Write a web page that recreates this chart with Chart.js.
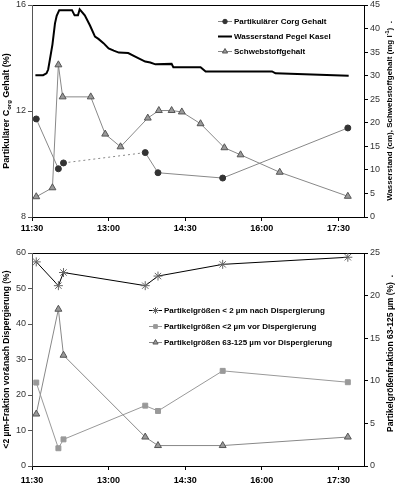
<!DOCTYPE html>
<html><head><meta charset="utf-8">
<script src="https://cdn.jsdelivr.net/npm/chart.js@4.4.1/dist/chart.umd.min.js"></script>
<style>
html,body{margin:0;padding:0;background:#fff;overflow:hidden;}
#c1{position:absolute;left:0;top:0;}
#c2{position:absolute;left:0;top:236px;}
</style></head><body>
<canvas id="c1" width="397" height="236"></canvas>
<canvas id="c2" width="397" height="247"></canvas>
<script>
// ---------- data ----------
const xRange = ["11:30", "18:00"];
const xTickLabels = ["11:30", "13:00", "14:30", "16:00", "17:30"];

const sampleTimes = ["11:35", "12:01", "12:07", "13:43", "13:58", "15:14", "17:41"];
const corg = [11.70, 9.82, 10.04, 10.43, 9.67, 9.47, 11.36];
const dashedCorgSegments = [2];

const waterTimes = ["11:34","11:43","11:47","11:49","11:51","11:54","11:57","11:59","12:02","12:17","12:20","12:24","12:26","12:32","12:38","12:44","12:48","12:54","13:00","13:06","13:12","13:23","13:33","13:43","13:49","13:55","14:14","14:16","14:48","14:54","16:12","16:16","17:42"];
const waterLevel = [30.1,30.1,30.5,31.3,33.4,36.6,41.1,42.7,43.9,43.9,42.8,42.8,44.1,42.8,40.7,38.3,37.8,36.9,35.8,35.3,34.9,34.8,33.9,33.0,32.8,32.4,32.5,31.8,31.8,30.9,30.9,30.5,30.0];

const suspTimes = ["11:35","11:54","12:01","12:06","12:39","12:56","13:14","13:46","13:59","14:14","14:26","14:48","15:16","15:35","16:21","17:41"];
const suspended = [4.3, 6.2, 32.3, 25.5, 25.5, 17.6, 14.9, 21.0, 22.6, 22.6, 22.3, 19.8, 14.7, 13.2, 9.5, 4.4];

const clayAfter = [57.5, 50.8, 54.5, 50.8, 53.5, 56.8, 58.8];
const clayBefore = [23.5, 5.0, 7.5, 17.0, 15.5, 26.8, 23.6];
const coarseBefore = [6.1, 18.4, 13.0, 3.4, 2.4, 2.4, 3.4];

const topLegend = ["Partikulärer Corg Gehalt", "Wasserstand Pegel Kasel", "Schwebstoffgehalt"];
const bottomLegend = ["Partikelgrößen < 2 µm nach Dispergierung", "Partikelgrößen <2 µm vor Dispergierung", "Partikelgrößen 63-125 µm vor Dispergierung"];

// ---------- helpers ----------
const FF = "'Liberation Sans', Arial, sans-serif";
function hm(s){ const [h,m] = s.split(":").map(Number); return h + m/60; }
function pts(times, vals){ return times.map((t,i)=>({x:hm(t), y:vals[i]})); }

const framePlugin = {
  id:'frame',
  beforeDatasetsDraw(chart){
    const a = chart.chartArea, c = chart.ctx;
    const L = Math.round(a.left)+0.5, R = Math.round(a.right)+0.5, T = Math.round(a.top)+0.5, B = Math.round(a.bottom)+0.5;
    c.save(); c.lineWidth = 1;
    c.strokeStyle = '#000';
    c.beginPath(); c.moveTo(L,T); c.lineTo(R,T); c.lineTo(R,B); c.lineTo(L,B); c.stroke();
    c.strokeStyle = '#555';
    c.beginPath(); c.moveTo(L,T); c.lineTo(L,B); c.stroke();
    c.restore();
  }
};

function drawRot(ctx, cx, cy, parts){
  ctx.save();
  ctx.translate(cx, cy);
  ctx.rotate(-Math.PI/2);
  let total = 0;
  parts.forEach(p=>{ ctx.font = p.font; p.w = ctx.measureText(p.text).width; total += p.w; });
  let x = -total/2;
  ctx.textBaseline = 'middle'; ctx.fillStyle = '#000';
  parts.forEach(p=>{ ctx.font = p.font; ctx.fillText(p.text, x, p.dy||0); x += p.w; });
  ctx.restore();
}

const titlePlugin = {
  id:'titles',
  afterDraw(chart, args, opts){
    const a = chart.chartArea, cy = (a.top + a.bottom)/2;
    drawRot(chart.ctx, opts.leftX, cy + (opts.leftDy||0), opts.left);
    drawRot(chart.ctx, opts.rightX, cy + (opts.rightDy||0), opts.right);
  }
};

const legendPlugin = {
  id:'legendx',
  afterDraw(chart, args, opts){
    const c = chart.ctx, a = chart.chartArea;
    const x0 = a.left + opts.dx, y0 = a.top + opts.dy;
    chart.data.datasets.forEach((ds, i)=>{
      const y = Math.round(y0 + i*opts.step) + 0.5;
      c.save();
      c.strokeStyle = ds.borderColor; c.lineWidth = ds.borderWidth;
      c.beginPath(); c.moveTo(x0, y); c.lineTo(x0 + opts.len, y); c.stroke();
      if (ds.pointRadius > 0) {
        c.fillStyle = ds.pointBackgroundColor; c.strokeStyle = ds.pointBorderColor; c.lineWidth = 1;
        Chart.helpers.drawPoint(c, {pointStyle: ds.pointStyle, rotation:0, radius: ds.pointRadius*0.75, borderWidth:1}, x0 + opts.len/2, y);
      }
      c.fillStyle = '#000'; c.font = 'bold 8px ' + FF; c.textBaseline = 'middle';
      c.fillText(opts.labels[i], x0 + opts.len + 2, y);
      c.restore();
    });
  }
};

function xScale(h, pad){
  return {
    type:'linear', min: hm(xRange[0]), max: hm(xRange[1]),
    afterBuildTicks: s => { s.ticks = xTickLabels.map(l=>({value: hm(l)})); },
    afterFit: s => { s.height = h; s.paddingLeft = 0; s.paddingRight = 0; },
    ticks:{ autoSkip:false, maxRotation:0, padding: pad, color:'#000', font:{family:FF, size:9, weight:'bold'},
      callback:(v,i)=> xTickLabels[i] },
    grid:{ drawOnChartArea:false, tickLength:4, color:'#000' },
    border:{ display:false }
  };
}
function yScale(pos, min, max, step, w){
  return {
    type:'linear', position: pos, min, max,
    afterFit: s => { s.width = w; s.paddingTop = 0; s.paddingBottom = 0; },
    ticks:{ stepSize: step, padding: 2, color:'#333', font:{family:FF, size:9} },
    grid:{ drawOnChartArea:false, tickLength:4, color: pos==='left' ? '#555' : '#000' },
    border:{ display:false }
  };
}

const common = { responsive:false, animation:false, events:[], devicePixelRatio:1 };

// ---------- top chart ----------
new Chart(document.getElementById('c1'), {
  type:'line',
  data:{ datasets:[
    { label: topLegend[0], data: pts(sampleTimes, corg), yAxisID:'y',
      borderColor:'#888', borderWidth:1, pointStyle:'circle', pointRadius:3,
      pointBackgroundColor:'#333', pointBorderColor:'#333', order:1,
      segment:{ borderDash: ctx => dashedCorgSegments.includes(ctx.p0DataIndex) ? [2,3] : undefined } },
    { label: topLegend[1], data: pts(waterTimes, waterLevel), yAxisID:'y2',
      borderColor:'#000', borderWidth:2, pointRadius:0, pointStyle:false, order:3 },
    { label: topLegend[2], data: pts(suspTimes, suspended), yAxisID:'y2',
      borderColor:'#888', borderWidth:1, pointStyle:'triangle', pointRadius:4,
      pointBackgroundColor:'#999', pointBorderColor:'#555', order:2 }
  ]},
  options:{ ...common,
    layout:{ padding:{ top:3, left:0, right:0, bottom:0 } },
    scales:{
      x: xScale(19, 2),
      y: yScale('left', 8, 16, 4, 32),
      y2: yScale('right', 0, 45, 5, 33)
    },
    plugins:{ legend:{display:false}, tooltip:{enabled:false},
      legendx:{ dx:186, dy:15.5, step:15, len:14, labels: topLegend },
      titles:{ leftX:7, rightX:390,
        left:[ {text:'Partikulärer C', font:'bold 9px '+FF}, {text:'org', font:'bold 6px '+FF, dy:2}, {text:' Gehalt (%)', font:'bold 9px '+FF} ],
        right:[ {text:'Wasserstand (cm), Schwebstoffgehalt (mg l', font:'bold 8px '+FF}, {text:'-1', font:'bold 5.5px '+FF, dy:-3}, {text:')  .', font:'bold 8px '+FF} ] }
    }
  },
  plugins:[framePlugin, titlePlugin, legendPlugin]
});

// ---------- bottom chart ----------
new Chart(document.getElementById('c2'), {
  type:'line',
  data:{ datasets:[
    { label: bottomLegend[0], data: pts(sampleTimes, clayAfter), yAxisID:'y',
      borderColor:'#000', borderWidth:1, pointStyle:'star', pointRadius:4.5,
      pointBackgroundColor:'#777', pointBorderColor:'#666', pointBorderWidth:1 },
    { label: bottomLegend[1], data: pts(sampleTimes, clayBefore), yAxisID:'y',
      borderColor:'#999', borderWidth:1, pointStyle:'rect', pointRadius:3.5,
      pointBackgroundColor:'#999', pointBorderColor:'#999' },
    { label: bottomLegend[2], data: pts(sampleTimes, coarseBefore), yAxisID:'y2',
      borderColor:'#888', borderWidth:1, pointStyle:'triangle', pointRadius:4,
      pointBackgroundColor:'#999', pointBorderColor:'#555' }
  ]},
  options:{ ...common,
    layout:{ padding:{ top:17, left:0, right:0, bottom:0 } },
    scales:{
      x: xScale(17, 5),
      y: yScale('left', 0, 60, 10, 32),
      y2: yScale('right', 0, 25, 5, 33)
    },
    plugins:{ legend:{display:false}, tooltip:{enabled:false},
      legendx:{ dx:117, dy:57, step:16, len:13, labels: bottomLegend },
      titles:{ leftX:7, rightX:391, leftDy:0, rightDy:-6,
        left:[ {text:'<2 µm-Fraktion vor&nach Dispergierung (%)', font:'bold 8.5px '+FF} ],
        right:[ {text:'Partikelgrößenfraktion 63-125 µm (%)  .', font:'bold 8.5px '+FF} ] }
    }
  },
  plugins:[framePlugin, titlePlugin, legendPlugin]
});
</script>
</body></html>
